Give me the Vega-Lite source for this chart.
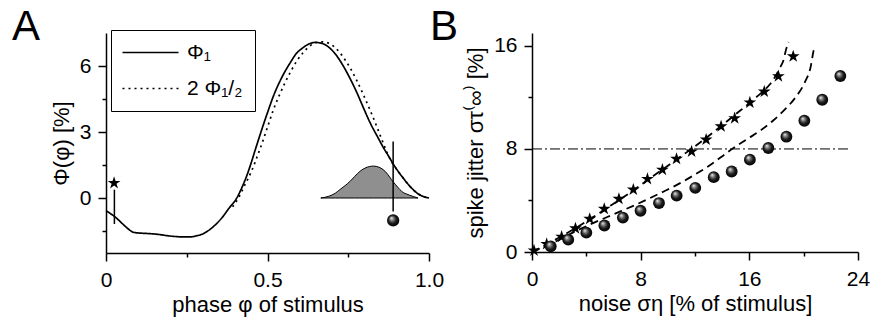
{
  "$schema": "https://vega.github.io/schema/vega-lite/v6.json",
  "background": "white",
  "padding": {"left": 12, "top": 6, "right": 5, "bottom": 5},
  "spacing": 103,
  "bounds": "flush",
  "config": {
    "font": "Liberation Sans",
    "view": {"stroke": null},
    "axis": {
      "domainColor": "black", "domainWidth": 1.5, "tickColor": "black", "tickWidth": 1.5,
      "labelFontSize": 21, "labelColor": "black", "labelFont": "Liberation Sans",
      "titleFontSize": 22, "titleFontWeight": "normal", "titleColor": "black", "titleFont": "Liberation Sans",
      "grid": false, "labelFlush": false, "labelOverlap": false
    },
    "axisX": {"labelPadding": 8, "titlePadding": 4},
    "axisY": {"labelPadding": 7, "titlePadding": 6}
  },
  "datasets": {
    "phi": [
      {"series": "Φ₁", "x": 0, "y": -0.58},
      {"series": "Φ₁", "x": 0.028, "y": -0.86},
      {"series": "Φ₁", "x": 0.054, "y": -1.21},
      {"series": "Φ₁", "x": 0.07, "y": -1.42},
      {"series": "Φ₁", "x": 0.085, "y": -1.56},
      {"series": "Φ₁", "x": 0.11, "y": -1.6},
      {"series": "Φ₁", "x": 0.136, "y": -1.62},
      {"series": "Φ₁", "x": 0.165, "y": -1.66},
      {"series": "Φ₁", "x": 0.188, "y": -1.71},
      {"series": "Φ₁", "x": 0.215, "y": -1.75},
      {"series": "Φ₁", "x": 0.239, "y": -1.77},
      {"series": "Φ₁", "x": 0.26, "y": -1.77},
      {"series": "Φ₁", "x": 0.28, "y": -1.72},
      {"series": "Φ₁", "x": 0.3, "y": -1.63},
      {"series": "Φ₁", "x": 0.32, "y": -1.45},
      {"series": "Φ₁", "x": 0.34, "y": -1.2},
      {"series": "Φ₁", "x": 0.36, "y": -0.88},
      {"series": "Φ₁", "x": 0.38, "y": -0.48},
      {"series": "Φ₁", "x": 0.405, "y": 0},
      {"series": "Φ₁", "x": 0.42, "y": 0.45},
      {"series": "Φ₁", "x": 0.435, "y": 0.98},
      {"series": "Φ₁", "x": 0.446, "y": 1.44},
      {"series": "Φ₁", "x": 0.464, "y": 2.28},
      {"series": "Φ₁", "x": 0.482, "y": 3.1},
      {"series": "Φ₁", "x": 0.5, "y": 3.88},
      {"series": "Φ₁", "x": 0.518, "y": 4.62},
      {"series": "Φ₁", "x": 0.545, "y": 5.5},
      {"series": "Φ₁", "x": 0.57, "y": 6.14},
      {"series": "Φ₁", "x": 0.59, "y": 6.58},
      {"series": "Φ₁", "x": 0.607, "y": 6.8},
      {"series": "Φ₁", "x": 0.628, "y": 7.0},
      {"series": "Φ₁", "x": 0.648, "y": 7.07},
      {"series": "Φ₁", "x": 0.67, "y": 7.02},
      {"series": "Φ₁", "x": 0.694, "y": 6.8},
      {"series": "Φ₁", "x": 0.715, "y": 6.45},
      {"series": "Φ₁", "x": 0.735, "y": 5.99},
      {"series": "Φ₁", "x": 0.756, "y": 5.42},
      {"series": "Φ₁", "x": 0.777, "y": 4.78},
      {"series": "Φ₁", "x": 0.797, "y": 4.1},
      {"series": "Φ₁", "x": 0.818, "y": 3.41},
      {"series": "Φ₁", "x": 0.84, "y": 2.8},
      {"series": "Φ₁", "x": 0.86, "y": 2.26},
      {"series": "Φ₁", "x": 0.875, "y": 1.9},
      {"series": "Φ₁", "x": 0.89, "y": 1.53},
      {"series": "Φ₁", "x": 0.905, "y": 1.2},
      {"series": "Φ₁", "x": 0.92, "y": 0.91},
      {"series": "Φ₁", "x": 0.935, "y": 0.63},
      {"series": "Φ₁", "x": 0.951, "y": 0.38},
      {"series": "Φ₁", "x": 0.966, "y": 0.19},
      {"series": "Φ₁", "x": 0.982, "y": 0.07},
      {"series": "Φ₁", "x": 1.0, "y": 0},
      {"series": "2 Φ₁/₂", "x": 0.392, "y": -0.4},
      {"series": "2 Φ₁/₂", "x": 0.41, "y": 0},
      {"series": "2 Φ₁/₂", "x": 0.43, "y": 0.6},
      {"series": "2 Φ₁/₂", "x": 0.45, "y": 1.2},
      {"series": "2 Φ₁/₂", "x": 0.472, "y": 2.04},
      {"series": "2 Φ₁/₂", "x": 0.487, "y": 2.65},
      {"series": "2 Φ₁/₂", "x": 0.503, "y": 3.35},
      {"series": "2 Φ₁/₂", "x": 0.518, "y": 4.0},
      {"series": "2 Φ₁/₂", "x": 0.536, "y": 4.65},
      {"series": "2 Φ₁/₂", "x": 0.554, "y": 5.23},
      {"series": "2 Φ₁/₂", "x": 0.572, "y": 5.75},
      {"series": "2 Φ₁/₂", "x": 0.59, "y": 6.21},
      {"series": "2 Φ₁/₂", "x": 0.61, "y": 6.6},
      {"series": "2 Φ₁/₂", "x": 0.632, "y": 6.92},
      {"series": "2 Φ₁/₂", "x": 0.648, "y": 7.05},
      {"series": "2 Φ₁/₂", "x": 0.663, "y": 7.1},
      {"series": "2 Φ₁/₂", "x": 0.68, "y": 7.08},
      {"series": "2 Φ₁/₂", "x": 0.694, "y": 7.0},
      {"series": "2 Φ₁/₂", "x": 0.71, "y": 6.83},
      {"series": "2 Φ₁/₂", "x": 0.725, "y": 6.59},
      {"series": "2 Φ₁/₂", "x": 0.74, "y": 6.28},
      {"series": "2 Φ₁/₂", "x": 0.756, "y": 5.91},
      {"series": "2 Φ₁/₂", "x": 0.777, "y": 5.32},
      {"series": "2 Φ₁/₂", "x": 0.797, "y": 4.69},
      {"series": "2 Φ₁/₂", "x": 0.818, "y": 3.98},
      {"series": "2 Φ₁/₂", "x": 0.838, "y": 3.26},
      {"series": "2 Φ₁/₂", "x": 0.855, "y": 2.62},
      {"series": "2 Φ₁/₂", "x": 0.869, "y": 2.1},
      {"series": "2 Φ₁/₂", "x": 0.884, "y": 1.65},
      {"series": "2 Φ₁/₂", "x": 0.9, "y": 1.3},
      {"series": "2 Φ₁/₂", "x": 0.92, "y": 0.91},
      {"series": "2 Φ₁/₂", "x": 0.935, "y": 0.63},
      {"series": "2 Φ₁/₂", "x": 0.951, "y": 0.38},
      {"series": "2 Φ₁/₂", "x": 0.966, "y": 0.19},
      {"series": "2 Φ₁/₂", "x": 0.982, "y": 0.07},
      {"series": "2 Φ₁/₂", "x": 1.0, "y": 0}
    ],
    "hatch": [
      {"x": 0.665, "y": 0},
      {"x": 0.69, "y": 0.08},
      {"x": 0.71, "y": 0.22},
      {"x": 0.724, "y": 0.38},
      {"x": 0.74, "y": 0.56},
      {"x": 0.755, "y": 0.75},
      {"x": 0.77, "y": 0.98},
      {"x": 0.786, "y": 1.21},
      {"x": 0.805, "y": 1.38},
      {"x": 0.828, "y": 1.45},
      {"x": 0.845, "y": 1.4},
      {"x": 0.858, "y": 1.29},
      {"x": 0.872, "y": 1.08},
      {"x": 0.884, "y": 0.83},
      {"x": 0.897, "y": 0.6},
      {"x": 0.91, "y": 0.38},
      {"x": 0.92, "y": 0.25},
      {"x": 0.931, "y": 0.18},
      {"x": 0.941, "y": 0.12},
      {"x": 0.951, "y": 0.07},
      {"x": 0.966, "y": 0}
    ],
    "sticks": [
      {"x": 0.026, "y": -1.18, "y2": 0.38},
      {"x": 0.889, "y": -0.61, "y2": 2.57}
    ],
    "aMarks": [
      {"kind": "star", "x": 0.025, "y": 0.68},
      {"kind": "ball", "x": 0.889, "y": -1.02}
    ],
    "level": [
      {"x": 0, "x2": 23.3, "y": 8}
    ],
    "curves": [
      {"curve": "stars", "x": 0, "y": 0},
      {"curve": "stars", "x": 1, "y": 0.55},
      {"curve": "stars", "x": 2, "y": 1.12},
      {"curve": "stars", "x": 3, "y": 1.72},
      {"curve": "stars", "x": 4, "y": 2.38},
      {"curve": "stars", "x": 5, "y": 3.05},
      {"curve": "stars", "x": 6, "y": 3.75},
      {"curve": "stars", "x": 7, "y": 4.45},
      {"curve": "stars", "x": 8, "y": 5.2},
      {"curve": "stars", "x": 9, "y": 5.95},
      {"curve": "stars", "x": 10, "y": 6.7},
      {"curve": "stars", "x": 11, "y": 7.45},
      {"curve": "stars", "x": 12, "y": 8.2},
      {"curve": "stars", "x": 13, "y": 9.0},
      {"curve": "stars", "x": 14, "y": 9.85},
      {"curve": "stars", "x": 15, "y": 10.7},
      {"curve": "stars", "x": 16, "y": 11.55},
      {"curve": "stars", "x": 16.6, "y": 12.1},
      {"curve": "stars", "x": 17.1, "y": 12.55},
      {"curve": "stars", "x": 17.5, "y": 13.0},
      {"curve": "stars", "x": 17.9, "y": 13.6},
      {"curve": "stars", "x": 18.25, "y": 14.3},
      {"curve": "stars", "x": 18.5, "y": 14.85},
      {"curve": "stars", "x": 18.7, "y": 15.7},
      {"curve": "stars", "x": 18.88, "y": 16.3},
      {"curve": "balls", "x": 0, "y": 0},
      {"curve": "balls", "x": 1, "y": 0.45},
      {"curve": "balls", "x": 2, "y": 0.95},
      {"curve": "balls", "x": 3, "y": 1.5},
      {"curve": "balls", "x": 4.4, "y": 2.2},
      {"curve": "balls", "x": 5.5, "y": 2.7},
      {"curve": "balls", "x": 6.5, "y": 3.15},
      {"curve": "balls", "x": 7.6, "y": 3.65},
      {"curve": "balls", "x": 8.7, "y": 4.19},
      {"curve": "balls", "x": 9.7, "y": 4.7},
      {"curve": "balls", "x": 10.7, "y": 5.23},
      {"curve": "balls", "x": 11.9, "y": 5.95},
      {"curve": "balls", "x": 12.9, "y": 6.6},
      {"curve": "balls", "x": 13.9, "y": 7.35},
      {"curve": "balls", "x": 14.8, "y": 8.05},
      {"curve": "balls", "x": 15.9, "y": 8.8},
      {"curve": "balls", "x": 16.9, "y": 9.5},
      {"curve": "balls", "x": 17.8, "y": 10.25},
      {"curve": "balls", "x": 18.6, "y": 11.05},
      {"curve": "balls", "x": 19.4, "y": 12.0},
      {"curve": "balls", "x": 20.1, "y": 13.2},
      {"curve": "balls", "x": 20.5, "y": 14.3},
      {"curve": "balls", "x": 20.75, "y": 15.7},
      {"curve": "balls", "x": 20.85, "y": 16.0}
    ],
    "jitter": [
      {"kind": "star", "x": 0.15, "y": 0.12},
      {"kind": "star", "x": 1.08, "y": 0.62},
      {"kind": "star", "x": 2.18, "y": 1.18},
      {"kind": "star", "x": 3.2, "y": 1.83},
      {"kind": "star", "x": 4.25, "y": 2.57},
      {"kind": "star", "x": 5.32, "y": 3.35},
      {"kind": "star", "x": 6.4, "y": 4.12},
      {"kind": "star", "x": 7.46, "y": 4.84},
      {"kind": "star", "x": 8.5, "y": 5.67},
      {"kind": "star", "x": 9.6, "y": 6.38},
      {"kind": "star", "x": 10.64, "y": 7.23},
      {"kind": "star", "x": 11.75, "y": 7.8},
      {"kind": "star", "x": 12.82, "y": 8.72},
      {"kind": "star", "x": 13.92, "y": 9.75},
      {"kind": "star", "x": 14.92, "y": 10.38},
      {"kind": "star", "x": 16.04, "y": 11.6},
      {"kind": "star", "x": 17.1, "y": 12.45},
      {"kind": "star", "x": 18.14, "y": 13.64},
      {"kind": "star", "x": 19.23, "y": 15.18},
      {"kind": "ball", "x": 1.38, "y": 0.44},
      {"kind": "ball", "x": 2.67, "y": 0.96},
      {"kind": "ball", "x": 4.0, "y": 1.5},
      {"kind": "ball", "x": 5.33, "y": 2.06},
      {"kind": "ball", "x": 6.69, "y": 2.67},
      {"kind": "ball", "x": 7.99, "y": 3.2},
      {"kind": "ball", "x": 9.35, "y": 3.8},
      {"kind": "ball", "x": 10.65, "y": 4.38},
      {"kind": "ball", "x": 12.02, "y": 4.98},
      {"kind": "ball", "x": 13.38, "y": 5.81},
      {"kind": "ball", "x": 14.7, "y": 6.25},
      {"kind": "ball", "x": 16.04, "y": 7.17},
      {"kind": "ball", "x": 17.4, "y": 8.07},
      {"kind": "ball", "x": 18.73, "y": 8.95},
      {"kind": "ball", "x": 20.05, "y": 10.19},
      {"kind": "ball", "x": 21.37, "y": 11.82},
      {"kind": "ball", "x": 22.7, "y": 13.66}
    ]
  },
  "hconcat": [
    {
      "width": 323,
      "height": 220,
      "title": {"text": "A", "anchor": "start", "frame": "group", "fontSize": 42, "fontWeight": "normal", "font": "Liberation Sans", "color": "black", "dx": -94, "offset": -42, "baseline": "alphabetic", "dy": 7},
      "layer": [
        {
          "data": {"name": "hatch"},
          "mark": {"type": "area", "interpolate": "monotone", "fill": "#8f8f8f", "stroke": "black", "strokeWidth": 1, "opacity": 1},
          "encoding": {
            "x": {"field": "x", "type": "quantitative", "scale": {"domain": [0, 1], "nice": false}, "axis": {
              "title": "phase φ of stimulus", "values": [0, 0.25, 0.5, 0.75, 1],
              "labelExpr": "datum.value === 0 ? '0' : datum.value === 0.5 ? '0.5' : datum.value === 1 ? '1.0' : ''",
              "tickSize": {"condition": {"test": "datum.value === 0.25 || datum.value === 0.75", "value": 4}, "value": 8}
            }},
            "y": {"field": "y", "type": "quantitative", "scale": {"domain": [-2.5, 7.5], "nice": false, "zero": false}, "axis": {
              "title": "Φ(φ) [%]", "values": [-1.5, 0, 1.5, 3, 4.5, 6],
              "labelExpr": "datum.value % 3 === 0 ? datum.label : ''",
              "tickSize": {"condition": {"test": "datum.value % 3 !== 0", "value": 4}, "value": 8}
            }}
          }
        },
        {
          "mark": {"type": "rule", "color": "black", "strokeWidth": 1.5},
          "encoding": {"y": {"datum": 0, "type": "quantitative"}}
        },
        {
          "data": {"name": "phi"},
          "mark": {"type": "line", "interpolate": "monotone", "color": "black", "strokeWidth": 1.7},
          "encoding": {
            "x": {"field": "x", "type": "quantitative"},
            "y": {"field": "y", "type": "quantitative"},
            "strokeDash": {"field": "series", "type": "nominal",
              "scale": {"domain": ["Φ₁", "2 Φ₁/₂"], "range": [[1, 0], [2, 4]]},
              "legend": {"title": null, "orient": "none", "legendX": 5, "legendY": -3,
                "strokeColor": "black", "fillColor": "white", "padding": 12,
                "symbolType": "M-2.2,0H9", "symbolSize": 100, "symbolStrokeWidth": 1.6, "symbolStrokeColor": "black",
                "labelFontSize": 21, "labelFont": "Liberation Sans", "labelColor": "black", "labelOffset": 43, "rowPadding": 14,
                "labelExpr": "datum.value === '2 Φ₁/₂' ? '\u00a0\u00a0' + datum.label : datum.label"}
            }
          }
        },
        {
          "data": {"name": "sticks"},
          "mark": {"type": "rule", "color": "black", "strokeWidth": 1.5},
          "encoding": {
            "x": {"field": "x", "type": "quantitative"},
            "y": {"field": "y", "type": "quantitative"},
            "y2": {"field": "y2"}
          }
        },
        {
          "data": {"name": "aMarks"},
          "transform": [{"filter": "datum.kind === 'star'"}],
          "mark": {"type": "point", "shape": "M0,-1L0.2245,-0.309L0.9511,-0.309L0.3633,0.118L0.5878,0.809L0,0.382L-0.5878,0.809L-0.3633,0.118L-0.9511,-0.309L-0.2245,-0.309Z", "filled": true, "color": "black", "opacity": 1, "size": 180},
          "encoding": {
            "x": {"field": "x", "type": "quantitative"},
            "y": {"field": "y", "type": "quantitative"}
          }
        },
        {
          "data": {"name": "aMarks"},
          "transform": [{"filter": "datum.kind === 'ball'"}],
          "mark": {"type": "point", "shape": "circle", "filled": true, "opacity": 1, "size": 150,
            "fill": {"gradient": "radial", "x1": 0.35, "y1": 0.3, "r1": 0, "x2": 0.5, "y2": 0.5, "r2": 0.55,
              "stops": [{"offset": 0, "color": "#ffffff"}, {"offset": 0.25, "color": "#8a8a8a"}, {"offset": 0.6, "color": "#1a1a1a"}, {"offset": 1, "color": "#000000"}]}},
          "encoding": {
            "x": {"field": "x", "type": "quantitative"},
            "y": {"field": "y", "type": "quantitative"}
          }
        }
      ]
    },
    {
      "width": 326,
      "height": 219,
      "title": {"text": "B", "anchor": "start", "frame": "group", "fontSize": 42, "fontWeight": "normal", "font": "Liberation Sans", "color": "black", "dx": -102, "offset": -42, "baseline": "alphabetic", "dy": 7},
      "layer": [
        {
          "data": {"name": "level"},
          "mark": {"type": "rule", "color": "black", "strokeWidth": 1, "strokeDash": [10, 3, 2, 3]},
          "encoding": {
            "x": {"field": "x", "type": "quantitative", "scale": {"domain": [0, 24], "nice": false}, "axis": {
              "title": "noise ση [% of stimulus]", "values": [0, 4, 8, 12, 16, 20, 24],
              "labelExpr": "datum.value % 8 === 0 ? datum.label : ''",
              "tickSize": {"condition": {"test": "datum.value % 8 !== 0", "value": 4}, "value": 8}
            }},
            "x2": {"field": "x2"},
            "y": {"field": "y", "type": "quantitative", "scale": {"domain": [0, 17], "nice": false}, "axis": {
              "title": "spike jitter στ⁽∞⁾ [%]", "values": [0, 4, 8, 12, 16],
              "labelExpr": "datum.value % 8 === 0 ? datum.label : ''",
              "tickSize": {"condition": {"test": "datum.value % 8 !== 0", "value": 4}, "value": 8}
            }}
          }
        },
        {
          "data": {"name": "curves"},
          "mark": {"type": "line", "interpolate": "monotone", "color": "black", "strokeWidth": 1.8, "strokeDash": [8, 5]},
          "encoding": {
            "x": {"field": "x", "type": "quantitative"},
            "y": {"field": "y", "type": "quantitative"},
            "detail": {"field": "curve", "type": "nominal"}
          }
        },
        {
          "data": {"name": "jitter"},
          "transform": [{"filter": "datum.kind === 'star'"}],
          "mark": {"type": "point", "shape": "M0,-1L0.2245,-0.309L0.9511,-0.309L0.3633,0.118L0.5878,0.809L0,0.382L-0.5878,0.809L-0.3633,0.118L-0.9511,-0.309L-0.2245,-0.309Z", "filled": true, "color": "black", "opacity": 1, "size": 180},
          "encoding": {
            "x": {"field": "x", "type": "quantitative"},
            "y": {"field": "y", "type": "quantitative"}
          }
        },
        {
          "data": {"name": "jitter"},
          "transform": [{"filter": "datum.kind === 'ball'"}],
          "mark": {"type": "point", "shape": "circle", "filled": true, "opacity": 1, "size": 140,
            "fill": {"gradient": "radial", "x1": 0.35, "y1": 0.3, "r1": 0, "x2": 0.5, "y2": 0.5, "r2": 0.55,
              "stops": [{"offset": 0, "color": "#ffffff"}, {"offset": 0.25, "color": "#8a8a8a"}, {"offset": 0.6, "color": "#1a1a1a"}, {"offset": 1, "color": "#000000"}]}},
          "encoding": {
            "x": {"field": "x", "type": "quantitative"},
            "y": {"field": "y", "type": "quantitative"}
          }
        }
      ]
    }
  ]
}
